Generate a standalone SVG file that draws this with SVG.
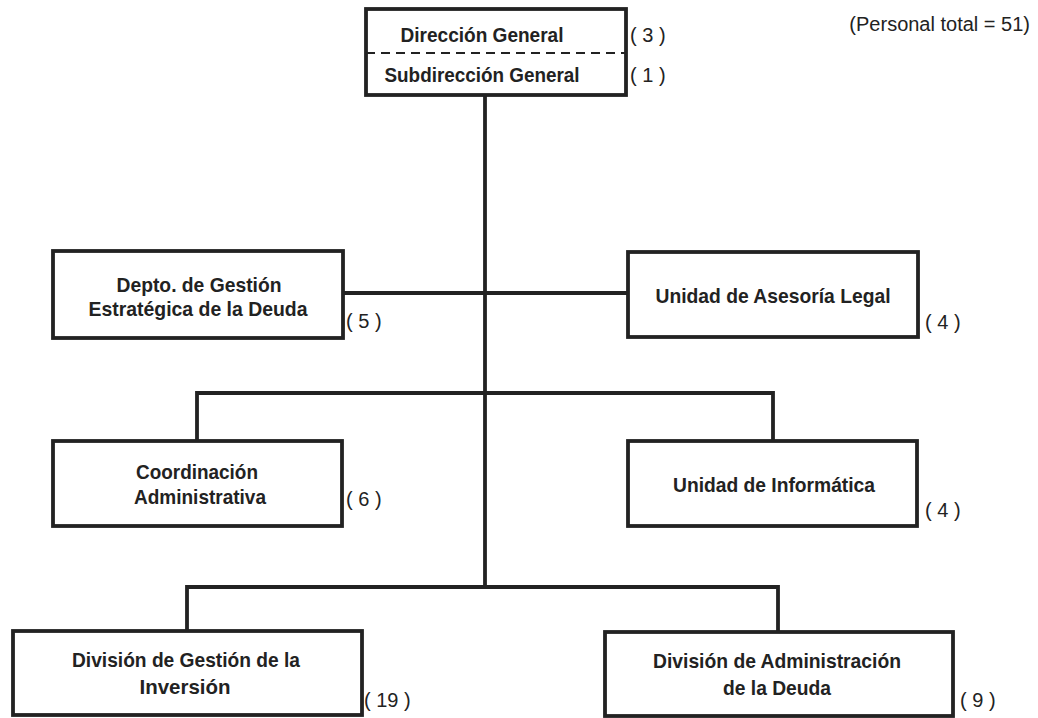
<svg xmlns="http://www.w3.org/2000/svg" width="1038" height="718" viewBox="0 0 1038 718">
<style>
.box{fill:#fff;stroke:#222;stroke-width:3.8}
.lbl{font-family:"Liberation Sans",Arial,sans-serif;font-weight:bold;font-size:21px;fill:#222;text-anchor:middle}
.cnt{font-family:"Liberation Sans",Arial,sans-serif;font-size:20px;fill:#222}
.con{fill:none;stroke:#222;stroke-width:3.8}
</style>
<rect width="1038" height="718" fill="#fff"/>
<g id="connectors">
<line class="con" x1="485" y1="95" x2="485" y2="587"/>
<line class="con" x1="343" y1="293" x2="628" y2="293"/>
<polyline class="con" points="197,441 197,393 773,393 773,441"/>
<polyline class="con" points="187,631 187,587 778,587 778,632"/>
</g>
<g id="direccion">
<rect class="box" x="366" y="9" width="260" height="86"/>
<line x1="366" y1="53" x2="626" y2="53" stroke="#222" stroke-width="2" stroke-dasharray="9,6"/>
<text class="lbl" x="482" y="42" textLength="163" lengthAdjust="spacingAndGlyphs">Dirección General</text>
<text class="lbl" x="482" y="82" textLength="195" lengthAdjust="spacingAndGlyphs">Subdirección General</text>
<text class="cnt" x="630" y="42">( 3 )</text>
<text class="cnt" x="630" y="82">( 1 )</text>
</g>
<g id="depto">
<rect class="box" x="53" y="251" width="290" height="87"/>
<text class="lbl" x="199" y="292" textLength="165" lengthAdjust="spacingAndGlyphs">Depto. de Gestión</text>
<text class="lbl" x="198" y="316" textLength="219" lengthAdjust="spacingAndGlyphs">Estratégica de la Deuda</text>
<text class="cnt" x="346" y="328">( 5 )</text>
</g>
<g id="asesoria">
<rect class="box" x="628" y="252" width="290" height="85"/>
<text class="lbl" x="773" y="303" textLength="235" lengthAdjust="spacingAndGlyphs">Unidad de Asesoría Legal</text>
<text class="cnt" x="925" y="329">( 4 )</text>
</g>
<g id="coordinacion">
<rect class="box" x="53" y="441" width="289" height="85"/>
<text class="lbl" x="197" y="479" textLength="122" lengthAdjust="spacingAndGlyphs">Coordinación</text>
<text class="lbl" x="200" y="504" textLength="132" lengthAdjust="spacingAndGlyphs">Administrativa</text>
<text class="cnt" x="346" y="506">( 6 )</text>
</g>
<g id="informatica">
<rect class="box" x="628" y="441" width="289" height="85"/>
<text class="lbl" x="774" y="492" textLength="202" lengthAdjust="spacingAndGlyphs">Unidad de Informática</text>
<text class="cnt" x="925" y="517">( 4 )</text>
</g>
<g id="div-inversion">
<rect class="box" x="13" y="631" width="349" height="84"/>
<text class="lbl" x="186" y="667" textLength="228" lengthAdjust="spacingAndGlyphs">División de Gestión de la</text>
<text class="lbl" x="185" y="694" textLength="91" lengthAdjust="spacingAndGlyphs">Inversión</text>
<text class="cnt" x="364" y="707">( 19 )</text>
</g>
<g id="div-deuda">
<rect class="box" x="605" y="632" width="348" height="84"/>
<text class="lbl" x="777" y="668" textLength="248" lengthAdjust="spacingAndGlyphs">División de Administración</text>
<text class="lbl" x="777" y="695" textLength="108" lengthAdjust="spacingAndGlyphs">de la Deuda</text>
<text class="cnt" x="960" y="707">( 9 )</text>
</g>
<text class="cnt" x="1030" y="31" text-anchor="end" font-size="20.5">(Personal total = 51)</text>
</svg>
